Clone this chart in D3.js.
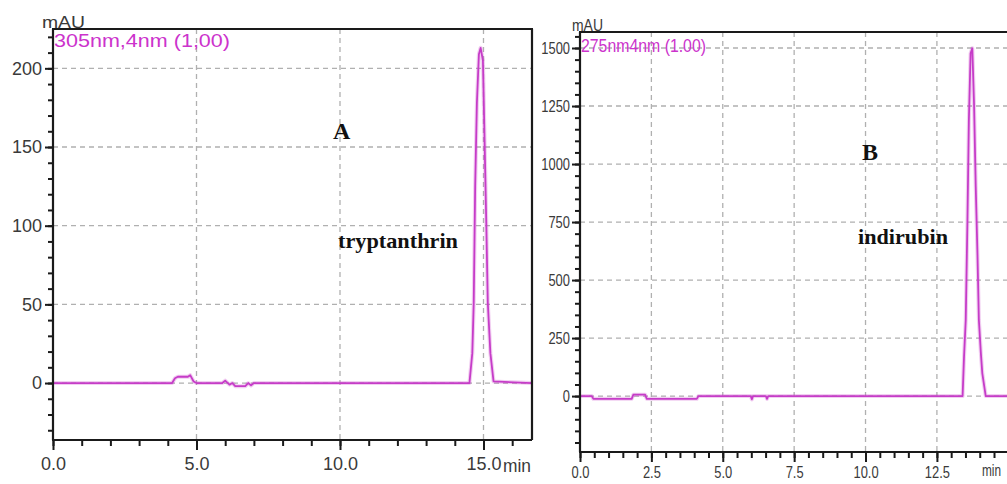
<!DOCTYPE html>
<html><head><meta charset="utf-8">
<script src="https://cdn.jsdelivr.net/npm/d3@7"></script>
<style>body{margin:0;background:#fff}svg{display:block}</style>
</head><body>
<svg id="c" width="1007" height="484"></svg>
<script>
// ---- Data: chromatogram A (tryptanthrin, 305 nm) ----
const timeA  = [0, 4.15, 4.25, 4.35, 4.70, 4.78, 4.90, 5.00, 5.90, 6.00, 6.15, 6.25, 6.35, 6.70, 6.80, 6.90, 7.00,
                14.51, 14.61, 14.66, 14.71, 14.77, 14.84, 14.90, 14.98, 15.04, 15.10, 15.15, 15.24, 15.35, 16.69];
const valueA = [0, 0, 3, 4, 4, 5, 1, 0, 0, 1.5, -1, 0, -2, -2, 0, -1.5, 0,
                0, 19, 51, 125, 178, 209, 213, 205, 152, 99, 51, 19, 1, 0];
// ---- Data: chromatogram B (indirubin, 275 nm) ----
const timeB  = [0, 0.41, 0.47, 1.81, 1.87, 2.28, 2.34, 4.09, 4.15, 5.98, 6.02, 6.06, 6.51, 6.55, 6.59,
                13.40, 13.45, 13.51, 13.57, 13.62, 13.68, 13.74, 13.80, 13.86, 13.92, 13.97, 14.04, 14.09, 14.21, 15.06];
const valueB = [0, 0, -12, -12, 6, 6, -12, -12, 0, 0, -14, 0, 0, -12, 0,
                0, 170, 328, 759, 1190, 1477, 1499, 1262, 902, 615, 328, 184, 98, 0, 0];
// ---- Tick definitions ----
const xTicksA = [0, 5, 10, 15];
const yTicksA = [0, 50, 100, 150, 200];
const xTicksB = [0, 2.5, 5, 7.5, 10, 12.5];
const yTicksB = [0, 250, 500, 750, 1000, 1250, 1500];
const labelA = "305nm,4nm (1,00)";
const labelB = "275nm4nm (1.00)";

const svg = d3.select("#c");
const LINE = "#c63cc8";
const AXIS = "#1a1a1a";
const TXT = "#3a3a3a";
const GRID = "#b0b0b0";

function panel(o) {
  const g = svg.append("g");
  const x = d3.scaleLinear().domain(o.xd).range([o.l, o.r]);
  const y = d3.scaleLinear().domain(o.yd).range([o.b, o.t]);
  const clipId = "clip" + o.id;
  svg.append("clipPath").attr("id", clipId).append("rect")
    .attr("x", o.l).attr("y", o.t).attr("width", o.r - o.l).attr("height", o.b - o.t);

  // grid
  const gg = g.append("g").attr("clip-path", `url(#${clipId})`);
  gg.selectAll("line.vg").data(o.xt.filter(d => d > 0)).join("line")
    .attr("x1", d => x(d)).attr("x2", d => x(d)).attr("y1", o.t).attr("y2", o.b)
    .attr("stroke", GRID).attr("stroke-width", 1.3).attr("stroke-dasharray", "5,4");
  gg.selectAll("line.hg").data(o.yt).join("line")
    .attr("x1", o.l).attr("x2", o.r).attr("y1", d => y(d)).attr("y2", d => y(d))
    .attr("stroke", GRID).attr("stroke-width", 1.3).attr("stroke-dasharray", "5,4");

  // trace
  const pts = o.tx.map((t, i) => [t, o.vy[i]]);
  const line = d3.line().x(d => x(d[0])).y(d => y(d[1]));
  gg.append("path").datum(pts).attr("d", line).attr("fill", "none")
    .attr("stroke", LINE).attr("stroke-opacity", 0.25).attr("stroke-width", 4).attr("stroke-linejoin", "round");
  gg.append("path").datum(pts).attr("d", line).attr("fill", "none")
    .attr("stroke", LINE).attr("stroke-width", 1.8).attr("stroke-linejoin", "round");

  // minor ticks
  const minX = d3.range(0, o.xd[1] + 1e-9, o.xminor);
  const minY = d3.range(Math.ceil(o.yd[0] / o.yminor) * o.yminor, o.yd[1] + 1e-9, o.yminor);
  g.append("g").attr("transform", `translate(0,${o.b})`)
    .call(d3.axisBottom(x).tickValues(minX).tickSize(6).tickFormat(""))
    .call(s => s.select(".domain").remove())
    .call(s => s.selectAll("line").attr("stroke", AXIS).attr("stroke-width", 2));
  g.append("g").attr("transform", `translate(${o.l},0)`)
    .call(d3.axisLeft(y).tickValues(minY).tickSize(5).tickFormat(""))
    .call(s => s.select(".domain").remove())
    .call(s => s.selectAll("line").attr("stroke", AXIS).attr("stroke-width", 2));

  // major ticks
  const ax = g.append("g").attr("transform", `translate(0,${o.b})`)
    .call(d3.axisBottom(x).tickValues(o.xt).tickSize(10).tickPadding(o.xpad).tickFormat(d3.format(".1f")))
    .call(s => s.select(".domain").remove())
    .call(s => s.selectAll("line").attr("stroke", AXIS).attr("stroke-width", 2));
  const ay = g.append("g").attr("transform", `translate(${o.l},0)`)
    .call(d3.axisLeft(y).tickValues(o.yt).tickSize(8).tickPadding(o.ypad).tickFormat(d3.format("d")))
    .call(s => s.select(".domain").remove())
    .call(s => s.selectAll("line").attr("stroke", AXIS).attr("stroke-width", 2));
  [ax, ay].forEach(a => a.selectAll("text")
    .attr("fill", TXT).attr("font-family", "Liberation Sans, Arial, sans-serif")
    .attr("font-size", o.fs)
    .each(function () {
      if (o.squeeze < 1) {
        const w = this.getComputedTextLength();
        d3.select(this).attr("textLength", w * o.squeeze).attr("lengthAdjust", "spacingAndGlyphs");
      }
    }));

  // frame
  g.append("line").attr("x1", o.l).attr("x2", o.l).attr("y1", o.t).attr("y2", o.b)
    .attr("stroke", AXIS).attr("stroke-width", 2.2);
  g.append("line").attr("x1", o.l - 1).attr("x2", o.r).attr("y1", o.b).attr("y2", o.b)
    .attr("stroke", AXIS).attr("stroke-width", 2.2);
  g.append("line").attr("x1", o.l - 1).attr("x2", o.r + 1).attr("y1", o.t).attr("y2", o.t)
    .attr("stroke", AXIS).attr("stroke-width", 2.2);
  if (o.rightBorder) g.append("line").attr("x1", o.r).attr("x2", o.r).attr("y1", o.t).attr("y2", o.b)
    .attr("stroke", AXIS).attr("stroke-width", 2.2);
  return {g, x, y};
}

const A = panel({id: "A", l: 53, r: 532, t: 29, b: 440, xd: [0, 16.69], yd: [-36.2, 225],
  xt: xTicksA, yt: yTicksA, xminor: 1, yminor: 10, tx: timeA, vy: valueA,
  fs: 18, squeeze: 1, xpad: 7, ypad: 3, rightBorder: true});
const B = panel({id: "B", l: 580, r: 1010, t: 32, b: 452, xd: [0, 15.06], yd: [-241, 1569],
  xt: xTicksB, yt: yTicksB, xminor: 0.5, yminor: 50, tx: timeB, vy: valueB,
  fs: 17, squeeze: 0.76, xpad: 4, ypad: 2, rightBorder: false});

// unit labels
svg.append("text").attr("x", 42).attr("y", 28).text("mAU")
  .attr("font-family", "Liberation Sans, Arial, sans-serif").attr("font-size", 17).attr("fill", TXT)
  .attr("textLength", 43).attr("lengthAdjust", "spacingAndGlyphs");
svg.append("text").attr("x", 572).attr("y", 31).text("mAU")
  .attr("font-family", "Liberation Sans, Arial, sans-serif").attr("font-size", 17).attr("fill", TXT)
  .attr("textLength", 31).attr("lengthAdjust", "spacingAndGlyphs");
svg.append("text").attr("x", 503).attr("y", 472).text("min")
  .attr("font-family", "Liberation Sans, Arial, sans-serif").attr("font-size", 18).attr("fill", TXT)
  .attr("textLength", 28).attr("lengthAdjust", "spacingAndGlyphs");
svg.append("text").attr("x", 982).attr("y", 476).text("min")
  .attr("font-family", "Liberation Sans, Arial, sans-serif").attr("font-size", 16).attr("fill", TXT)
  .attr("textLength", 19).attr("lengthAdjust", "spacingAndGlyphs");

// wavelength labels
svg.append("text").attr("x", 54).attr("y", 47).text(labelA)
  .attr("font-family", "Liberation Sans, Arial, sans-serif").attr("font-size", 19).attr("fill", "#cc33cc")
  .attr("textLength", 176).attr("lengthAdjust", "spacingAndGlyphs");
svg.append("text").attr("x", 581).attr("y", 52).text(labelB)
  .attr("font-family", "Liberation Sans, Arial, sans-serif").attr("font-size", 18).attr("fill", "#cc33cc")
  .attr("textLength", 125).attr("lengthAdjust", "spacingAndGlyphs");

// annotations
const serif = "Liberation Serif, Times New Roman, serif";
svg.append("text").attr("x", 333).attr("y", 139).text("A")
  .attr("font-family", serif).attr("font-weight", "bold").attr("font-size", 24).attr("fill", "#111");
svg.append("text").attr("x", 338).attr("y", 248).text("tryptanthrin")
  .attr("font-family", serif).attr("font-weight", "bold").attr("font-size", 22).attr("fill", "#111")
  .attr("textLength", 120).attr("lengthAdjust", "spacingAndGlyphs");
svg.append("text").attr("x", 862).attr("y", 160).text("B")
  .attr("font-family", serif).attr("font-weight", "bold").attr("font-size", 24).attr("fill", "#111");
svg.append("text").attr("x", 858).attr("y", 244).text("indirubin")
  .attr("font-family", serif).attr("font-weight", "bold").attr("font-size", 22).attr("fill", "#111")
  .attr("textLength", 90).attr("lengthAdjust", "spacingAndGlyphs");
</script>
</body></html>
